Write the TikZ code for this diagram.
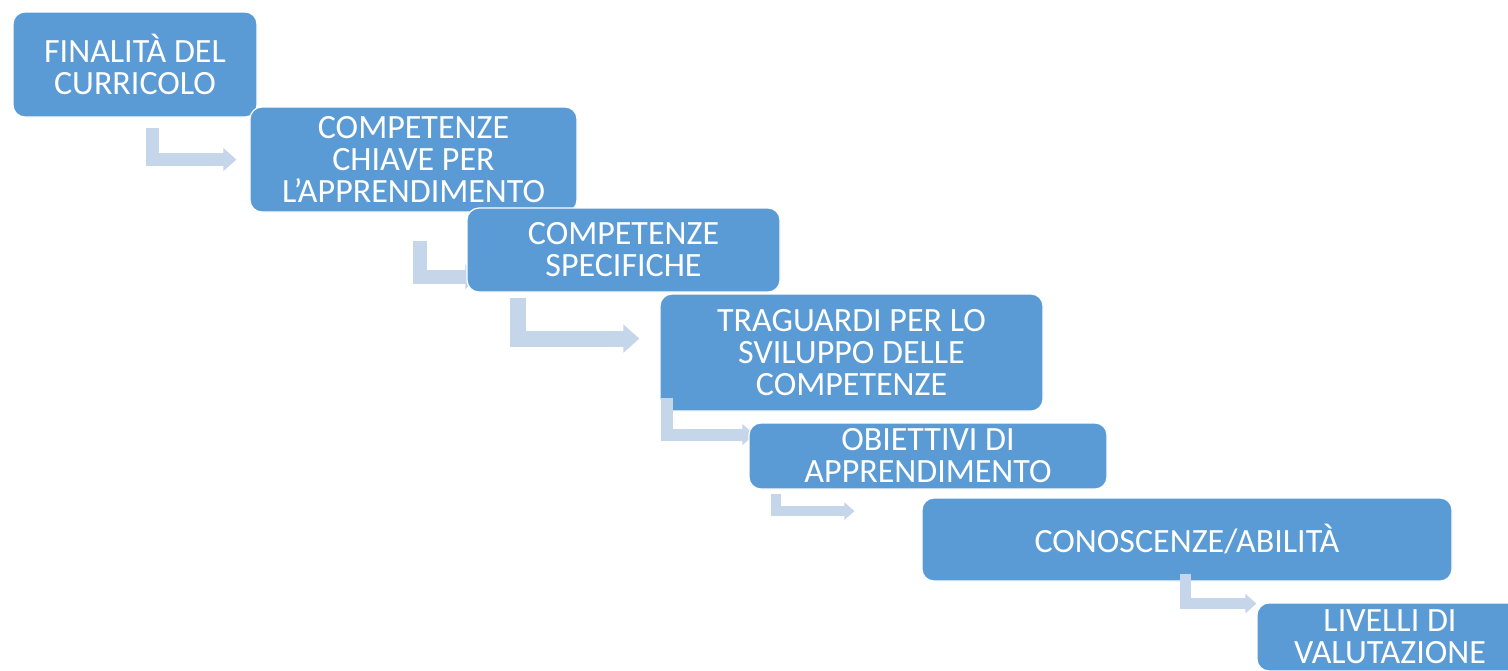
\documentclass[tikz,border=0pt]{standalone}
\usepackage{fontspec}
\setmainfont{Carlito}
\usetikzlibrary{arrows.meta, calc}

\definecolor{boxblue}{HTML}{5B9BD5}
\definecolor{arrowblue}{HTML}{C5D5EA}

\tikzset{
  stage/.style={fill=boxblue, draw=white, line width=0.6pt, rounded corners=6pt,
    text=white, align=center, inner sep=0pt,
    font=\fontsize{17}{16}\selectfont},
  bendarrow/.style={draw=arrowblue, line cap=butt, line join=miter,
    -{Triangle[length=0pt 1, width=0pt 1.7]}}
}

\begin{document}
\begin{tikzpicture}[x=0.5pt, y=-0.5pt]

\path[use as bounding box, clip] (0,0) rectangle (1508,670);
\fill[white] (0,0) rectangle (1508,670);

\node[stage, minimum width=122pt, minimum height=52.5pt] (fin) at (135,64.5) {FINALITÀ DEL\\CURRICOLO};
\draw[bendarrow, line width=6.5pt] ($(fin.south west)+(140.5,10)$) |- ($(fin.south west)+(224,42)$);

\node[stage, minimum width=163.5pt, minimum height=52.5pt] (chiave) at (413.5,159.5) {COMPETENZE\\CHIAVE PER\\L’APPRENDIMENTO};
\draw[bendarrow, line width=7pt] ($(chiave.south west)+(171,28)$) |- ($(chiave.south west)+(230,64)$);

\node[stage, minimum width=156.5pt, minimum height=42pt] (spec) at (623.5,250) {COMPETENZE\\SPECIFICHE};
\draw[bendarrow, line width=8pt] ($(spec.south west)+(52,5)$) |- ($(spec.south west)+(173,46)$);

\node[stage, minimum width=191.5pt, minimum height=58.5pt] (trag) at (851.5,352.5) {TRAGUARDI PER LO\\SVILUPPO DELLE\\COMPETENZE};
\draw[bendarrow, line width=6pt] ($(trag.south west)+(7.5,-14)$) |- ($(trag.south west)+(95,23)$);

\node[stage, minimum width=179pt, minimum height=33pt] (obi) at (928,456) {OBIETTIVI DI\\APPRENDIMENTO};
\draw[bendarrow, line width=5pt] ($(obi.south west)+(27.5,4)$) |- ($(obi.south west)+(106,21.5)$);

\node[stage, minimum width=265pt, minimum height=41.5pt] (cono) at (1187,539.5) {CONOSCENZE/ABILITÀ};
\draw[bendarrow, line width=5.5pt] ($(cono.south west)+(264,-8)$) |- ($(cono.south west)+(335,22)$);

\node[stage, minimum width=133pt, minimum height=34pt] (liv) at (1390,637) {LIVELLI DI\\VALUTAZIONE};

\end{tikzpicture}
\end{document}
